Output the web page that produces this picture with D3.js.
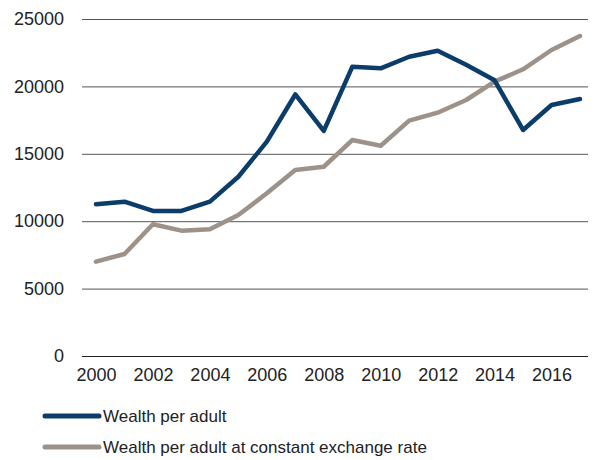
<!DOCTYPE html>
<html>
<head>
<meta charset="utf-8">
<script src="https://cdn.jsdelivr.net/npm/d3@7"></script>
<style>
  body { margin: 0; background: #fff; }
  svg { display: block; font-family: "Liberation Sans", Arial, sans-serif; }
</style>
</head>
<body>
<div id="chart"></div>
<script>
// Data
const years = [2000, 2001, 2002, 2003, 2004, 2005, 2006, 2007, 2008,
               2009, 2010, 2011, 2012, 2013, 2014, 2015, 2016, 2017];
const wealthPerAdult = [11250, 11450, 10760, 10760, 11450, 13300, 15900, 19400, 16700,
                        21450, 21340, 22200, 22650, 21600, 20450, 16770, 18620, 19070];
const wealthConstFx = [7000, 7570, 9770, 9300, 9400, 10460, 12070, 13800, 14040,
                       16020, 15600, 17460, 18050, 18990, 20350, 21270, 22700, 23740];
const yTicks = [0, 5000, 10000, 15000, 20000, 25000];
const xTicks = [2000, 2002, 2004, 2006, 2008, 2010, 2012, 2014, 2016];
const seriesNames = ["Wealth per adult", "Wealth per adult at constant exchange rate"];
const seriesColors = ["#0b3c6a", "#9c928a"];

const width = 597, height = 460;
const svg = d3.select("#chart").append("svg")
    .attr("width", width)
    .attr("height", height);

const x = d3.scaleLinear().domain([2000, 2017]).range([96, 580]);
const y = d3.scaleLinear().domain([0, 25000]).range([356, 19]);

// Gridlines + y labels
const yAxis = svg.append("g")
    .attr("transform", "translate(82,0)")
    .call(d3.axisLeft(y).tickValues(yTicks).tickSize(-506).tickPadding(18).tickFormat(d3.format("d")));
yAxis.select(".domain").remove();
yAxis.selectAll(".tick line")
    .attr("stroke", d => d === 0 ? "#222" : "#555")
    .attr("stroke-width", 1);
yAxis.selectAll(".tick text")
    .attr("font-size", 18)
    .attr("fill", "#222");

// X labels
const xAxis = svg.append("g")
    .attr("transform", "translate(0,356)")
    .call(d3.axisBottom(x).tickValues(xTicks).tickSize(0).tickPadding(12).tickFormat(d3.format("d")));
xAxis.select(".domain").remove();
xAxis.selectAll(".tick text")
    .attr("font-size", 18)
    .attr("fill", "#222");

const line = d3.line()
    .x((d, i) => x(years[i]))
    .y(d => y(d));

const series = [wealthConstFx, wealthPerAdult];
const colorsDrawn = [seriesColors[1], seriesColors[0]];
series.forEach((s, k) => {
    svg.append("path")
        .datum(s)
        .attr("fill", "none")
        .attr("stroke", colorsDrawn[k])
        .attr("stroke-width", 4.5)
        .attr("stroke-linejoin", "round")
        .attr("stroke-linecap", "round")
        .attr("d", line);
});

// Legend
const legend = svg.append("g");
seriesNames.forEach((name, i) => {
    const ly = 416 + i * 31;
    legend.append("line")
        .attr("x1", 45).attr("x2", 99)
        .attr("y1", ly).attr("y2", ly)
        .attr("stroke", seriesColors[i])
        .attr("stroke-width", 5)
        .attr("stroke-linecap", "round");
    legend.append("text")
        .attr("x", 103)
        .attr("y", ly)
        .attr("dy", "0.35em")
        .attr("font-size", 17)
        .attr("fill", "#222")
        .text(name);
});
</script>
</body>
</html>
